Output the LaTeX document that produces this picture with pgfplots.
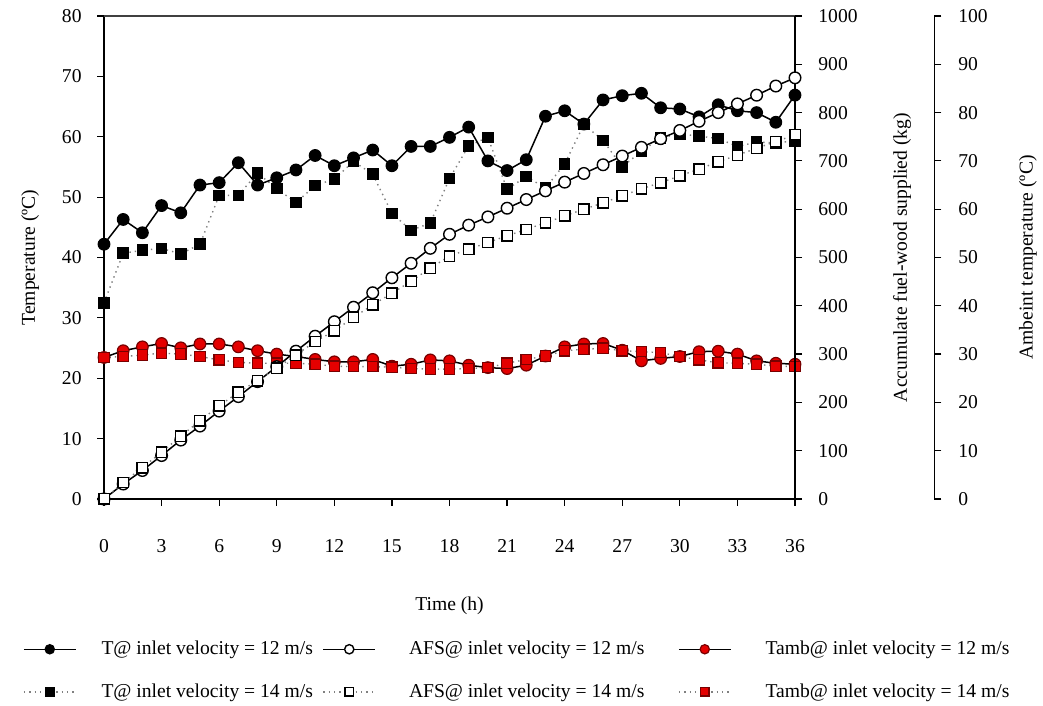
\documentclass[border=0pt]{standalone}
\usepackage{fontspec}
\setmainfont{Liberation Serif}
\usepackage{pgfplots}
\usepackage{pgfplotstable}
\pgfplotsset{compat=1.18}
\definecolor{redm}{RGB}{228,0,0}
\definecolor{redd}{RGB}{120,0,0}

\pgfplotstableread{
h T12 T14 A12 A14 Ta12 Ta14
0 42.2 32.5 0 0 29.3 29.3
1 46.3 40.7 31 34 30.7 29.5
2 44.1 41.2 59 65 31.5 29.8
3 48.6 41.5 90 97 32.2 30.2
4 47.4 40.6 122 130 31.3 30.0
5 52.0 42.2 151 162 32.1 29.5
6 52.4 50.3 182 193 32.1 28.8
7 55.7 50.3 212 221 31.5 28.3
8 52.0 54.0 243 245 30.7 28.1
9 53.2 51.4 274 271 30.0 28.1
10 54.5 49.1 306 298 29.5 28.1
11 56.9 51.9 337 326 28.9 27.9
12 55.2 53.0 367 348 28.4 27.5
13 56.5 55.9 397 376 28.4 27.4
14 57.8 53.8 427 402 28.9 27.4
15 55.2 47.3 458 426 27.5 27.3
16 58.4 44.5 488 451 27.9 27.0
17 58.4 45.7 519 478 28.8 26.9
18 59.9 53.1 548 503 28.6 26.9
19 61.6 58.5 567 517 27.7 27.0
20 56.0 59.9 584 531 27.2 27.2
21 54.4 51.3 602 545 27.0 28.1
22 56.2 53.4 620 558 27.7 28.9
23 63.4 51.5 638 572 29.6 29.6
24 64.3 55.5 656 586 31.5 30.7
25 62.1 62.0 674 600 32.1 31.0
26 66.1 59.4 692 613 32.2 31.2
27 66.8 55.0 710 628 30.8 30.7
28 67.2 57.6 728 642 28.6 30.5
29 64.8 59.8 746 655 29.1 30.3
30 64.6 60.5 763 669 29.5 29.5
31 63.3 60.1 782 683 30.5 28.8
32 65.3 59.7 800 698 30.6 28.2
33 64.3 58.4 818 712 30.0 28.1
34 64.0 59.1 836 726 28.6 27.9
35 62.4 59.0 855 740 28.1 27.5
36 66.9 59.3 872 754 27.9 27.4
}\datatable

\pgfplotsset{
  myaxis/.style={
    scale only axis, width=345.5pt, height=241.5pt,
    at={(52pt,103.5pt)}, anchor=south west,
    xmin=0, xmax=36, enlargelimits=false, clip=false,
    /pgf/number format/assume math mode=true,
    /pgf/number format/1000 sep={},
    tick align=outside, major tick length=3.5pt,
    every tick/.style={black, line width=0.6pt},
    axis line style={line width=0.6pt, black},
  },
  s12/.style={black, line width=0.75pt, mark=*, mark size=2.9pt, mark options={solid, line width=0.6pt, draw=black, fill=black}},
  s14/.style={black!50, dotted, line width=0.7pt, mark=square*, mark size=2.6pt, mark options={solid, line width=0.6pt, draw=black, fill=black}},
  a12/.style={black, line width=0.75pt, mark=*, mark size=2.9pt, mark options={solid, line width=0.7pt, draw=black, fill=white}},
  a14/.style={black!50, dotted, line width=0.7pt, mark=square*, mark size=2.6pt, mark options={solid, line width=0.7pt, draw=black, fill=white}},
  r12/.style={black, line width=0.75pt, mark=*, mark size=2.9pt, mark options={solid, line width=0.6pt, draw=redd, fill=redm}},
  r14/.style={black!50, dotted, line width=0.7pt, mark=square*, mark size=2.6pt, mark options={solid, line width=0.6pt, draw=redd, fill=redm}},
}

\begin{document}
\fontsize{9.8}{11.8}\selectfont
\begin{tikzpicture}
\useasboundingbox (0,0) rectangle (521.5pt,353pt);
% main axis: temperatures
\begin{axis}[myaxis,
  axis x line*=bottom, axis y line*=left,
  ymin=0, ymax=80, ytick={0,10,...,80}, xtick={0,3,...,36},
  xlabel={Time (h)}, ylabel={Temperature (ºC)},
  every axis x label/.style={at={(axis description cs:0.5,-0.222)}, anchor=center},
  every axis y label/.style={at={(axis description cs:-0.107,0.5)}, rotate=90, anchor=center},
  xticklabel style={anchor=north, inner sep=0pt, text height=6.6pt, yshift=-16.3pt},
  yticklabel style={anchor=east, inner sep=0pt, xshift=-7.5pt},
  legend columns=3,
  legend cell align=left,
  legend style={at={(axis description cs:-0.1172,-0.294)}, anchor=north west,
    draw=none, fill=none, inner sep=0pt, outer sep=0pt,
    column sep=0pt, row sep=13pt, nodes={inner sep=0pt, anchor=west}},
  legend image code/.code={\draw[mark repeat=2, mark phase=2, #1, /tikz/every mark/.append style={scale=0.8}] plot coordinates {(0pt,0pt) (13pt,0pt) (26pt,0pt)};},
]
\draw[line width=0.6pt, black!75] (rel axis cs:0,1) -- (rel axis cs:1,1);
\addplot[s14, forget plot] table[x=h, y=T14] {\datatable};
\addplot[s12, forget plot] table[x=h, y=T12] {\datatable};
\addlegendimage{s12}
\addlegendentry{\makebox[123pt][l]{\hspace*{12.5pt}T@ inlet velocity = 12 m/s}}
\addlegendimage{a12}
\addlegendentry{\makebox[151pt][l]{\hspace*{16.5pt}AFS@ inlet velocity = 12 m/s}}
\addlegendimage{r12}
\addlegendentry{\hspace*{17pt}Tamb@ inlet velocity = 12 m/s}
\addlegendimage{s14}
\addlegendentry{\makebox[123pt][l]{\hspace*{12.5pt}T@ inlet velocity = 14 m/s}}
\addlegendimage{a14}
\addlegendentry{\makebox[151pt][l]{\hspace*{16.5pt}AFS@ inlet velocity = 14 m/s}}
\addlegendimage{r14}
\addlegendentry{\hspace*{17pt}Tamb@ inlet velocity = 14 m/s}
\end{axis}
% ambient temperature axis (outer right)
\begin{axis}[myaxis, width=415.15pt, xmin=0, xmax=43.257,
  axis x line=none, axis y line*=right,
  ymin=0, ymax=100, ytick={0,10,...,100},
  ylabel={Ambeint temperature (ºC)},
  every axis y label/.style={at={(axis description cs:1.1128,0.5)}, rotate=90, anchor=center},
  yticklabel style={anchor=west, inner sep=0pt, xshift=8.3pt},
]
\addplot[r12] table[x=h, y=Ta12] {\datatable};
\addplot[r14] table[x=h, y=Ta14] {\datatable};
\end{axis}
% accumulated fuel-wood axis
\begin{axis}[myaxis,
  axis x line=none, axis y line*=right,
  ymin=0, ymax=1000, ytick={0,100,...,1000},
  ylabel={Accumulate fuel-wood supplied (kg)},
  every axis y label/.style={at={(axis description cs:1.1548,0.5)}, rotate=90, anchor=center},
  yticklabel style={anchor=west, inner sep=0pt, xshift=8pt},
]
\addplot[a12] table[x=h, y=A12] {\datatable};
\addplot[a14] table[x=h, y=A14] {\datatable};
\end{axis}
\end{tikzpicture}
\end{document}
